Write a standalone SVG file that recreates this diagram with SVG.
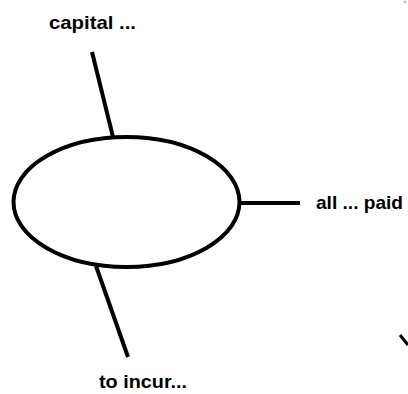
<svg xmlns="http://www.w3.org/2000/svg" width="408" height="394" viewBox="0 0 408 394">
<style>
.lbl{font-family:"Liberation Sans",Arial,sans-serif;font-weight:bold;font-size:19px;fill:#000}
.ln{stroke:#000;stroke-width:4;fill:none;stroke-linecap:butt}
</style>
<rect width="408" height="394" fill="#fff"/>
<g id="connectors">
<line class="ln" x1="92" y1="52" x2="113" y2="137"/>
<line class="ln" x1="240" y1="203" x2="300" y2="203"/>
<line class="ln" x1="96" y1="266" x2="128" y2="357"/>
</g>
<g id="center">
<ellipse cx="126.5" cy="202" rx="113" ry="65" fill="#fff" stroke="#000" stroke-width="4"/>
</g>
<g id="node-capital">
<text class="lbl" x="49" y="29" textLength="87" lengthAdjust="spacingAndGlyphs">capital ...</text>
</g>
<g id="node-paid">
<text class="lbl" x="316" y="209" textLength="87" lengthAdjust="spacingAndGlyphs">all ... paid</text>
</g>
<g id="node-incur">
<text class="lbl" x="99" y="388" textLength="88" lengthAdjust="spacingAndGlyphs">to incur...</text>
</g>
<line x1="400" y1="335" x2="408" y2="345" stroke="#000" stroke-width="3"/>
<circle cx="405" cy="2" r="1.5" fill="#bbb"/>
</svg>
